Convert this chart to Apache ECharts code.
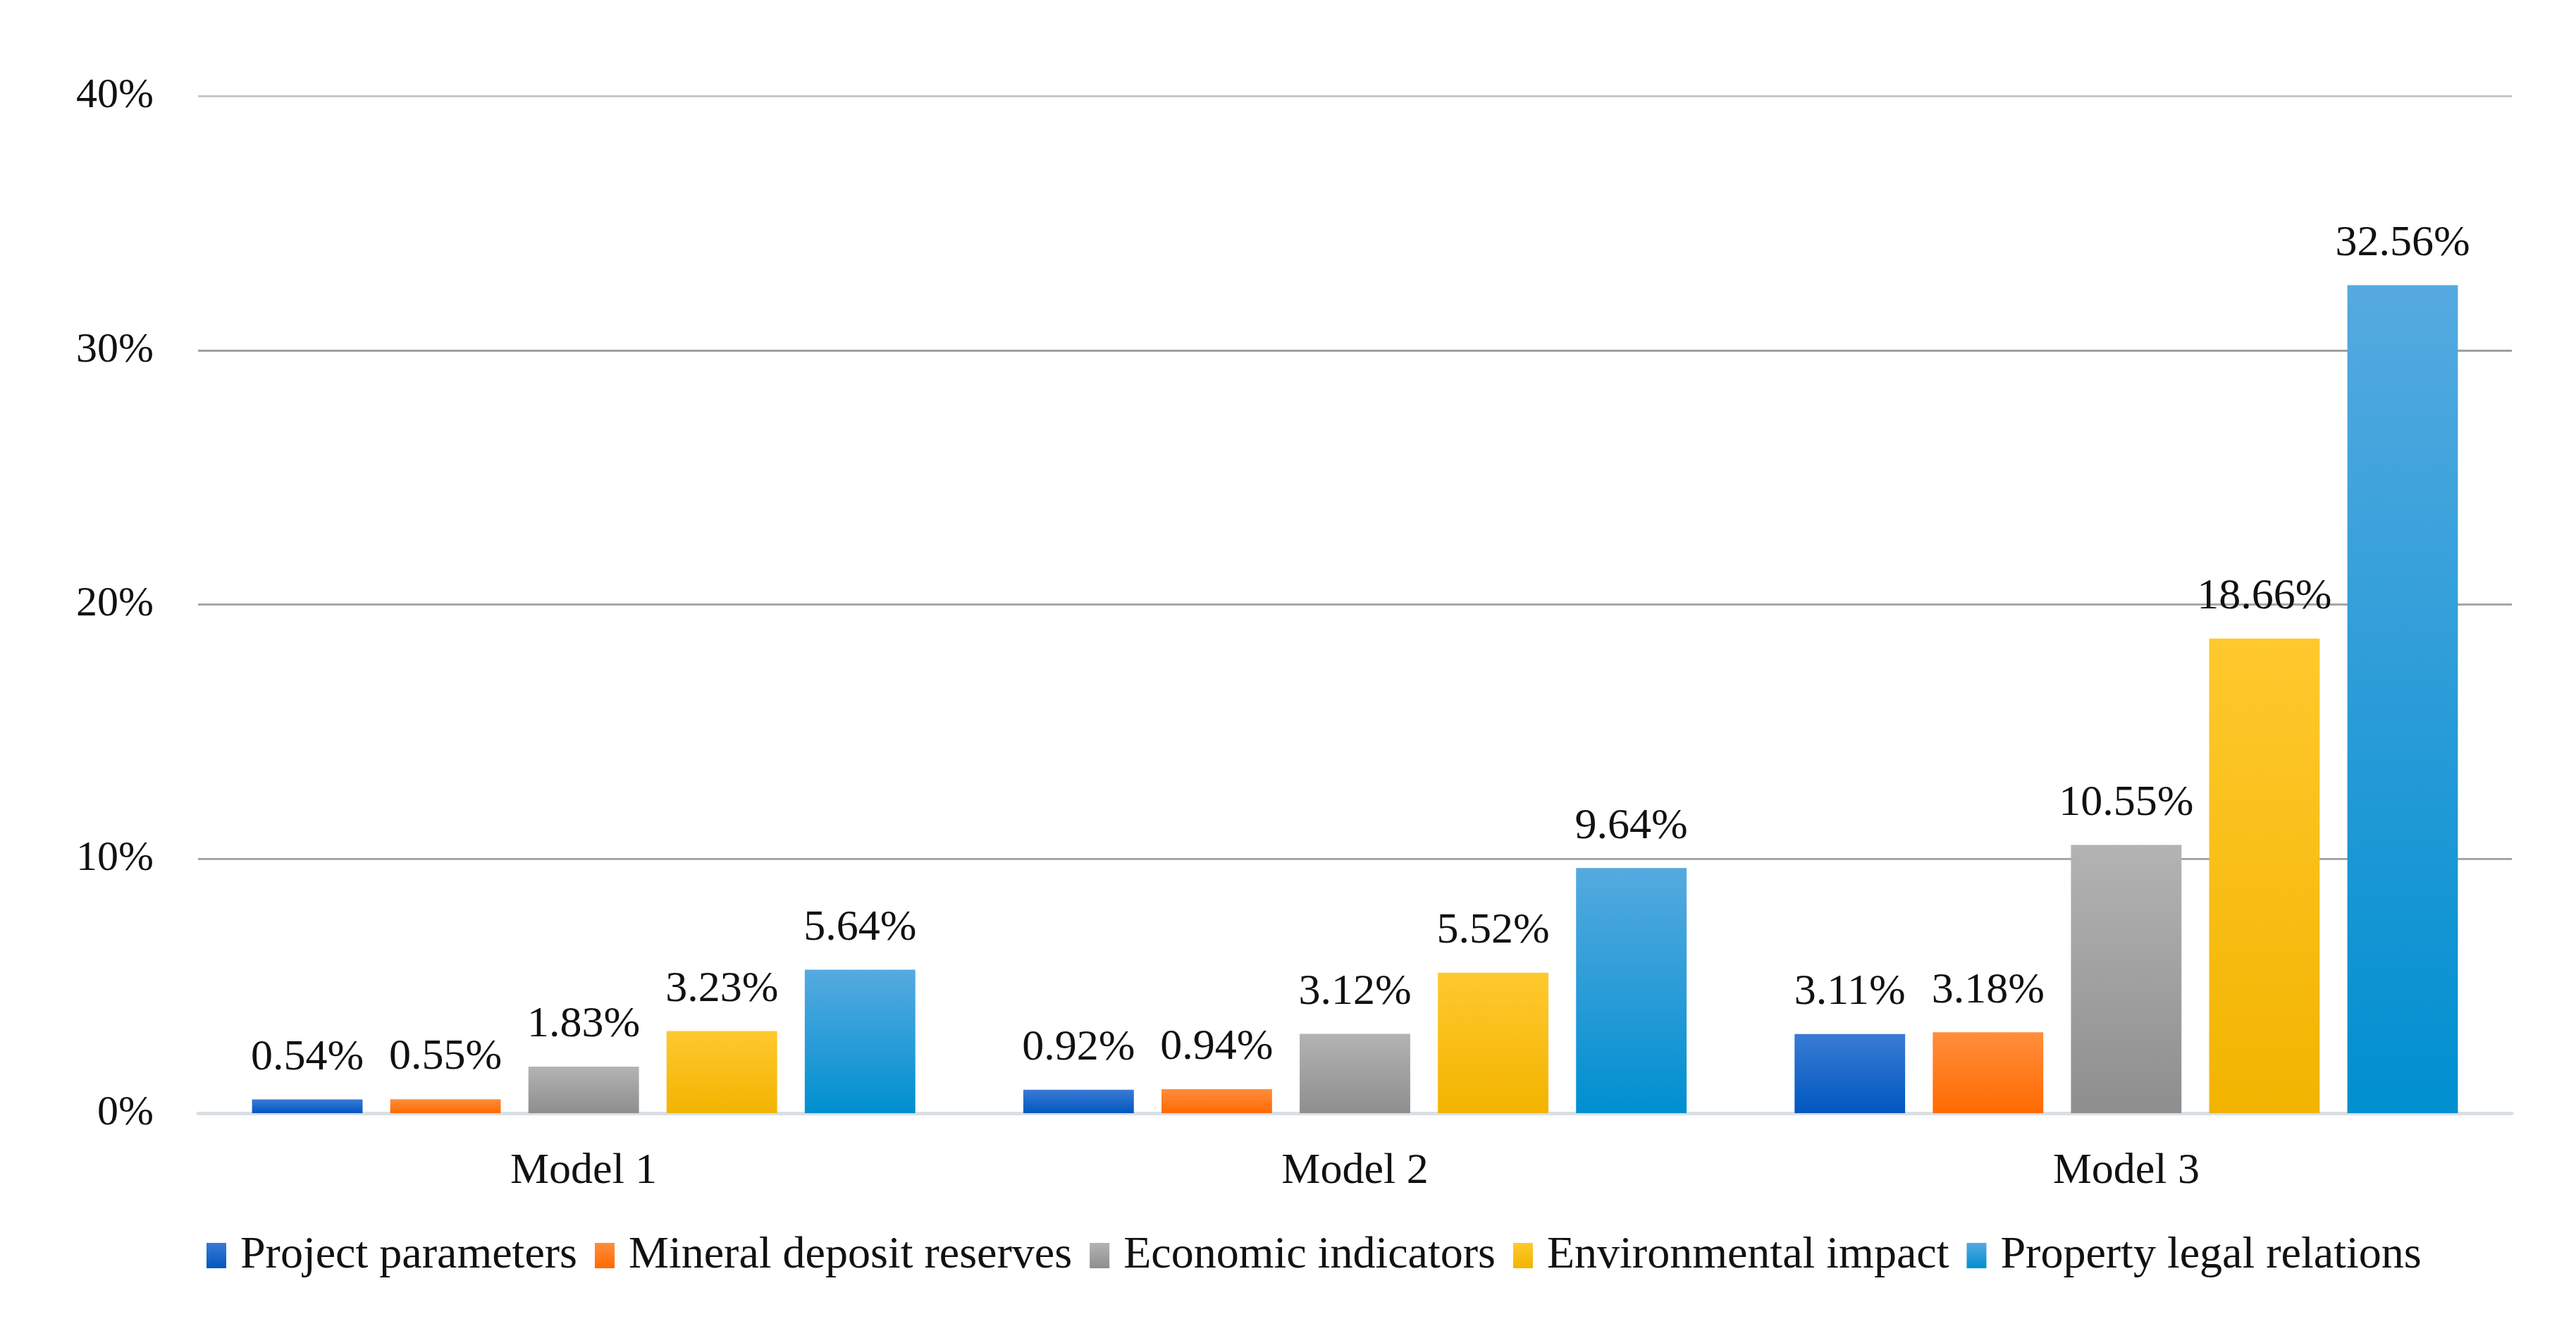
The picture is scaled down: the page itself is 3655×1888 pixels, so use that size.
<!DOCTYPE html>
<html>
<head>
<meta charset="utf-8">
<script src="https://cdn.jsdelivr.net/npm/echarts@6/dist/echarts.min.js"></script>
<style>
html,body{margin:0;padding:0;background:#ffffff;}
#chart{width:3655px;height:1888px;}
</style>
</head>
<body>
<div id="chart"></div>
<script>
const categories = ['Model 1', 'Model 2', 'Model 3'];
const seriesNames = ['Project parameters', 'Mineral deposit reserves', 'Economic indicators', 'Environmental impact', 'Property legal relations'];
const projectParameters = [0.54, 0.92, 3.11];
const mineralDepositReserves = [0.55, 0.94, 3.18];
const economicIndicators = [1.83, 3.12, 10.55];
const environmentalImpact = [3.23, 5.52, 18.66];
const propertyLegalRelations = [5.64, 9.64, 32.56];
const yTicks = [0, 10, 20, 30, 40];

const seriesValues = [projectParameters, mineralDepositReserves, economicIndicators, environmentalImpact, propertyLegalRelations];
const gradients = [
  ['#3a7bd5', '#0057bf'],
  ['#ff8d3c', '#ff6a00'],
  ['#b3b3b3', '#8e8e8e'],
  ['#ffc92e', '#f2b400'],
  ['#55aae0', '#008fd0']
];
const FONT = '"Liberation Serif", "DejaVu Serif", serif';

function grad(i) {
  return {
    type: 'linear', x: 0, y: 0, x2: 0, y2: 1,
    colorStops: [{ offset: 0, color: gradients[i][0] }, { offset: 1, color: gradients[i][1] }]
  };
}

const chart = echarts.init(document.getElementById('chart'));
chart.setOption({
  backgroundColor: '#ffffff',
  animation: false,
  grid: { left: 281, right: 91, top: 136, bottom: 309, containLabel: false },
  legend: {
    bottom: 70,
    left: 288,
    itemWidth: 28,
    itemHeight: 36,
    itemGap: 25,
    icon: 'rect',
    textStyle: { fontFamily: FONT, fontSize: 64, color: '#111', padding: [0, 0, 0, 15] },
    data: seriesNames.map((n, i) => ({ name: n, itemStyle: { color: grad(i) } }))
  },
  xAxis: {
    type: 'category',
    data: categories,
    axisLine: { show: true, lineStyle: { color: '#d8dfe5', width: 5 } },
    axisTick: { show: false },
    axisLabel: { fontFamily: FONT, fontSize: 62, color: '#111', margin: 52 }
  },
  yAxis: {
    type: 'value',
    min: yTicks[0],
    max: yTicks[yTicks.length - 1],
    interval: 10,
    axisLine: { show: false },
    axisTick: { show: false },
    axisLabel: { fontFamily: FONT, fontSize: 60, color: '#111', margin: 63, formatter: '{value}%' },
    splitLine: { lineStyle: { color: ['#d8dfe5', '#a6a6a6', '#a6a6a6', '#a0a0a0', '#c8c8c8'], width: 3 } }
  },
  series: seriesNames.map((name, i) => ({
    name: name,
    type: 'bar',
    data: seriesValues[i],
    barGap: '25%',
    barCategoryGap: '14%',
    itemStyle: { color: grad(i) },
    label: {
      show: true,
      position: 'top',
      distance: 28,
      fontFamily: FONT,
      fontSize: 62,
      color: '#111',
      formatter: p => p.value.toFixed(2) + '%'
    }
  }))
});
</script>
</body>
</html>
